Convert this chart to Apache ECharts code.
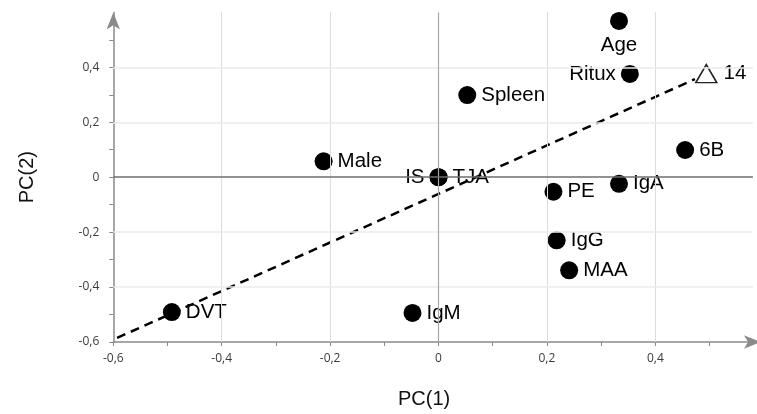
<!DOCTYPE html>
<html>
<head>
<meta charset="utf-8">
<script src="https://cdn.jsdelivr.net/npm/echarts@6/dist/echarts.min.js"></script>
<style>
html,body{margin:0;padding:0;background:#fff;}
#chart{width:757px;height:414px;}
</style>
</head>
<body>
<div id="chart"></div>
<script>
// ---- data ----
const varNames = ['Age','Ritux','Spleen','6B','Male','IS','TJA','PE','IgA','IgG','MAA','IgM','DVT'];
const pc1 = [0.333,0.353,0.053,0.455,-0.212,0,0,0.212,0.333,0.218,0.241,-0.048,-0.492];
const pc2 = [0.569,0.376,0.299,0.099,0.058,0,0,-0.053,-0.024,-0.230,-0.339,-0.494,-0.491];
const obsName = ['14'];
const obsPc1 = [0.494];
const obsPc2 = [0.377];
const lineX = [-0.593, 0.473];
const lineY = [-0.585, 0.357];
const xLabelTicks = [-0.6,-0.4,-0.2,0,0.2,0.4];
const yLabelTicks = [-0.6,-0.4,-0.2,0,0.2,0.4];
const xMinorTicks = [-0.6,-0.5,-0.4,-0.3,-0.2,-0.1,0,0.1,0.2,0.3,0.4,0.5];
const yMinorTicks = [-0.6,-0.5,-0.4,-0.3,-0.2,-0.1,0,0.1,0.2,0.3,0.4,0.5];
const xGridLines = [-0.4,-0.2,0.2,0.4];
const yGridLines = [-0.4,-0.2,0.2,0.4];

// ---- styles ----
const labelSide = {Age:'bottom', Ritux:'left', IS:'left'};
const FONT = '"Liberation Sans", Arial, sans-serif';
const fmt = v => (Math.round(v*10)/10).toString().replace('.', ',');

const chart = echarts.init(document.getElementById('chart'), null, {renderer:'canvas'});

const pointData = varNames.map((n,i) => ({
  name: n,
  value: [pc1[i], pc2[i]],
  label: {position: labelSide[n] || 'right'}
}));

const option = {
  animation: false,
  backgroundColor: '#fff',
  grid: {left: 113.3, right: 4.1, top: 12.4, bottom: 69.8},
  xAxis: {
    type: 'value', min: -0.6, max: 0.58, interval: 0.2,
    name: 'PC(1)', nameLocation: 'middle', nameGap: 47,
    nameTextStyle: {fontFamily: FONT, fontSize: 20, color: '#111', padding: [0, 18, 0, 0]},
    axisLine: {onZero: false, lineStyle: {color: '#8a8a8a', width: 1.5}, symbol: ['none','arrow'], symbolSize: [10, 17], symbolOffset: [0, 8]},
    axisTick: {show: true, customValues: xMinorTicks, length: 4, lineStyle: {color: '#8a8a8a', width: 1}},
    axisLabel: {customValues: xLabelTicks, formatter: fmt, margin: 11, fontFamily: '"Open Sans", sans-serif', fontSize: 12, color: '#3a3a3a'},
    splitLine: {show: false}
  },
  yAxis: {
    type: 'value', min: -0.6, max: 0.6, interval: 0.2,
    name: 'PC(2)', nameLocation: 'middle', nameGap: 76,
    nameTextStyle: {fontFamily: FONT, fontSize: 20, color: '#111'},
    axisLine: {onZero: false, lineStyle: {color: '#8a8a8a', width: 1.5}, symbol: ['none','arrow'], symbolSize: [10, 17], symbolOffset: [0, 0]},
    axisTick: {show: true, customValues: yMinorTicks, length: 4, lineStyle: {color: '#8a8a8a', width: 1}},
    axisLabel: {customValues: yLabelTicks, formatter: fmt, margin: 14, fontFamily: '"Open Sans", sans-serif', fontSize: 12, color: '#3a3a3a'},
    splitLine: {show: false}
  },
  series: [
    {
      type: 'line', data: [], silent: true, z: 0,
      markLine: {
        silent: true, symbol: ['none','none'], animation: false,
        label: {show: false},
        data: [
          ...xGridLines.map(v => ({xAxis: v, lineStyle: {color: '#dcdcdc', width: 1, type: 'solid'}})),
          ...yGridLines.map(v => ({yAxis: v, lineStyle: {color: '#ebebeb', width: 1.5, type: 'solid'}})),
          {xAxis: 0, lineStyle: {color: '#a8a8a8', width: 1.2, type: 'solid'}},
          {yAxis: 0, lineStyle: {color: '#6e6e6e', width: 1.5, type: 'solid'}}
        ]
      }
    },
    {
      type: 'scatter', z: 3,
      symbol: 'circle', symbolSize: 18,
      itemStyle: {color: '#000', opacity: 1},
      label: {show: true, formatter: '{b}', fontFamily: FONT, fontSize: 20.5, color: '#000', distance: 5},
      emphasis: {disabled: true},
      data: pointData
    },
    {
      type: 'scatter', z: 3,
      symbol: 'triangle', symbolSize: [21, 18],
      itemStyle: {color: '#fff', borderColor: '#222', borderWidth: 1.5, opacity: 1},
      label: {show: true, position: 'right', formatter: '{b}', fontFamily: FONT, fontSize: 20.5, color: '#000', distance: 6},
      emphasis: {disabled: true},
      data: obsName.map((n,i) => ({name: n, value: [obsPc1[i], obsPc2[i]]}))
    },
    {
      type: 'line', z: 4, symbol: 'none', silent: true,
      lineStyle: {color: '#000', width: 2.5, type: [9, 6]},
      data: lineX.map((x,i) => [x, lineY[i]])
    }
  ]
};
chart.setOption(option);
</script>
</body>
</html>
